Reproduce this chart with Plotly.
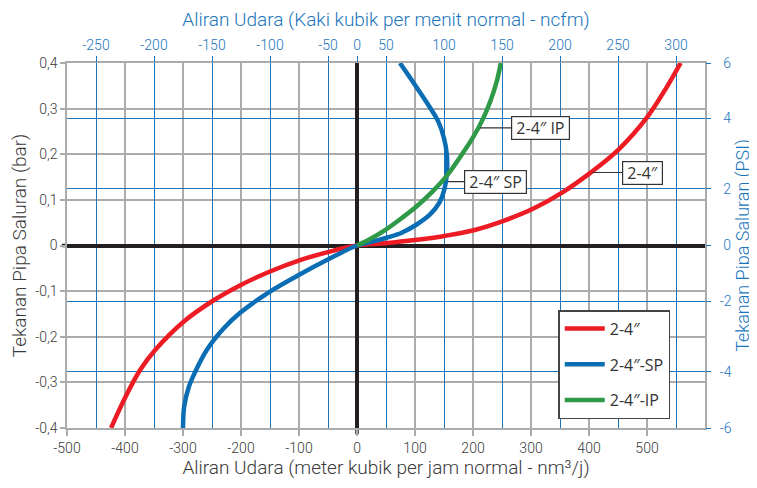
import plotly.graph_objects as go

# ---------------- data ----------------
# 2-4"  (red)
red_x = [-424, -402, -374, -348, -299, -247, -201, -150, -98, -52, 0,
         48, 100, 151, 203, 255, 306, 355, 401, 450, 499, 533, 558]
red_y = [-0.400, -0.339, -0.273, -0.229, -0.167, -0.120, -0.087, -0.057, -0.032, -0.015, 0.0,
         0.005, 0.012, 0.021, 0.034, 0.055, 0.082, 0.117, 0.158, 0.209, 0.279, 0.345, 0.400]

# 2-4"-SP (blue)
sp_x = [-300, -298, -290, -279, -259, -230, -201, -150, -98, -52, 0,
        25, 51, 77, 103, 126, 142, 151, 155, 155, 150, 140, 123, 100, 74]
sp_y = [-0.400, -0.353, -0.310, -0.277, -0.229, -0.182, -0.147, -0.101, -0.063, -0.032, 0.0,
        0.008, 0.017, 0.028, 0.046, 0.068, 0.094, 0.125, 0.160, 0.198, 0.235, 0.272, 0.308, 0.352, 0.400]

# 2-4"-IP (green)
ip_x = [0, 25, 51, 77, 103, 130, 155, 180, 200, 217, 231, 241, 248]
ip_y = [0.0, 0.016, 0.036, 0.060, 0.086, 0.118, 0.153, 0.198, 0.237, 0.277, 0.320, 0.360, 0.400]

series_names = ["2-4″", "2-4″-SP", "2-4″-IP"]

# bottom axis (nm3/h)
bottom_ticks = [-500, -400, -300, -200, -100, 0, 100, 200, 300, 400, 500]
bottom_labels = ["-500", "-400", "-300", "-200", "-100", "0", "100", "200", "300", "400", "500"]
# left axis (bar)
left_ticks = [-0.4, -0.3, -0.2, -0.1, 0, 0.1, 0.2, 0.3, 0.4]
left_labels = ["-0,4", "-0,3", "-0,2", "-0,1", "0", "0,1", "0,2", "0,3", "0,4"]
# top axis (ncfm) - positions on the nm3/h scale as drawn
top_ticks = [-450, -350, -250, -150, -50, 0, 50, 150, 250, 350, 450, 550]
top_labels = ["-250", "-200", "-150", "-100", "-50", "0", "50", "100", "150", "200", "250", "300"]
# right axis (PSI) - positions on the bar scale as drawn
right_ticks = [0.4, 0.279, 0.124, 0, -0.122, -0.277, -0.4]
right_labels = ["\u00a06", "\u00a04", "\u00a02", "\u00a00", "-2", "-4", "-6"]

# callouts: (text, x, y, offset in px)
callouts = [("2-4″ IP", 212, 0.258, 61), ("2-4″ SP", 157, 0.140, 47), ("2-4″", 406, 0.160, 50)]

# ---------------- styling ----------------
RED = "#ed1c24"
BLUE_C = "#0b6db3"
GREEN = "#2e9a47"
BLUE = "#1a75bc"
GREY = "#ababab"
TXT = "#3a3a3a"
BLACK = "#231f20"
F_NUM = "Roboto"
F_TXT = "Open Sans"

fig = go.Figure()
for nm, xs, ys, col in [(series_names[0], red_x, red_y, RED),
                         (series_names[1], sp_x, sp_y, BLUE_C),
                         (series_names[2], ip_x, ip_y, GREEN)]:
    fig.add_trace(go.Scatter(x=xs, y=ys, mode="lines", name=nm, legendgroup=nm,
                             hoverinfo="skip",
                             line=dict(color=col, width=4.5, shape="spline", smoothing=1.0)))

# invisible trace so the secondary (top / right) axes get drawn
fig.add_trace(go.Scatter(x=[None], y=[None], xaxis="x2", yaxis="y2", mode="lines",
                         showlegend=False, hoverinfo="skip"))

for txt, x, y, ax in callouts:
    fig.add_annotation(x=x, y=y, xref="x", yref="y", text="\u00a0" + txt + "\u00a0",
                       showarrow=True, arrowhead=0, arrowwidth=1.2, arrowcolor="#333333",
                       ax=ax, ay=0, standoff=0,
                       font=dict(family=F_TXT, size=16, color="#333333"),
                       bgcolor="white", bordercolor="#333333", borderwidth=1.2, borderpad=0)

# small black tick marks where the zero lines cross the bottom and left axes
fig.add_shape(type="line", xref="x", yref="paper", x0=0, x1=0, y0=-0.017, y1=0,
              line=dict(color=BLACK, width=3.5), layer="between")
fig.add_shape(type="line", xref="paper", yref="y", x0=-0.008, x1=0, y0=0, y1=0,
              line=dict(color=BLACK, width=3.5), layer="between")

XR = [-500, 600]
YR = [-0.4, 0.4]

fig.update_layout(
    width=757, height=488,
    margin=dict(l=59, r=60, t=55, b=68, autoexpand=False),
    paper_bgcolor="white", plot_bgcolor="white",
    showlegend=True,
    legend=dict(x=0.770, y=0.323, xanchor="left", yanchor="top",
                bgcolor="white", bordercolor="#444444", borderwidth=1.5,
                font=dict(family=F_TXT, size=16, color="#333333"),
                tracegroupgap=12, traceorder="grouped", itemwidth=40),
    xaxis=dict(range=XR, tickvals=bottom_ticks, ticktext=bottom_labels,
               showgrid=True, gridcolor=GREY, gridwidth=1.5,
               zeroline=True, zerolinecolor=BLACK, zerolinewidth=3.5,
               showline=True, linecolor=GREY, linewidth=1.5, mirror=True,
               ticks="outside", tickcolor=GREY, ticklen=6, tickwidth=1.5,
               tickfont=dict(family=F_NUM, size=14, color=TXT, weight=300),
               title=dict(text="Aliran Udara (meter kubik per jam normal - nm³/j)",
                          font=dict(family=F_NUM, size=19, color=TXT, weight=300), standoff=6),
               fixedrange=True),
    yaxis=dict(range=YR, tickvals=left_ticks, ticktext=left_labels,
               showgrid=True, gridcolor=GREY, gridwidth=1.5,
               zeroline=True, zerolinecolor=BLACK, zerolinewidth=3.5,
               showline=True, linecolor=GREY, linewidth=1.5, mirror=True,
               ticks="outside", tickcolor=GREY, ticklen=5, tickwidth=1.5,
               tickfont=dict(family=F_NUM, size=14, color=TXT, weight=300),
               title=dict(text="Tekanan Pipa Saluran (bar)",
                          font=dict(family=F_NUM, size=19, color=TXT, weight=300), standoff=4),
               fixedrange=True),
    xaxis2=dict(overlaying="x", side="top", anchor="y", range=XR,
                tickvals=top_ticks, ticktext=top_labels,
                showgrid=True, gridcolor=BLUE, gridwidth=1.2, zeroline=False,
                showline=False, ticks="outside", tickcolor=BLUE, ticklen=6, tickwidth=1.2,
                tickfont=dict(family=F_NUM, size=14, color=BLUE, weight=300),
                title=dict(text="Aliran Udara (Kaki kubik per menit normal - ncfm)",
                           font=dict(family=F_NUM, size=19, color=BLUE, weight=300), standoff=6),
                fixedrange=True),
    yaxis2=dict(overlaying="y", side="right", anchor="x", range=YR,
                tickvals=right_ticks, ticktext=right_labels,
                showgrid=True, gridcolor=BLUE, gridwidth=1.2, zeroline=False,
                showline=False, ticks="outside", tickcolor=BLUE, ticklen=5, tickwidth=1.2,
                ticklabelstandoff=6,
                tickfont=dict(family=F_NUM, size=14, color=BLUE, weight=300),
                title=dict(text="Tekanan Pipa Saluran (PSI)",
                           font=dict(family=F_NUM, size=18, color=BLUE, weight=300), standoff=0),
                fixedrange=True),
)

fig.write_html("out.html")
